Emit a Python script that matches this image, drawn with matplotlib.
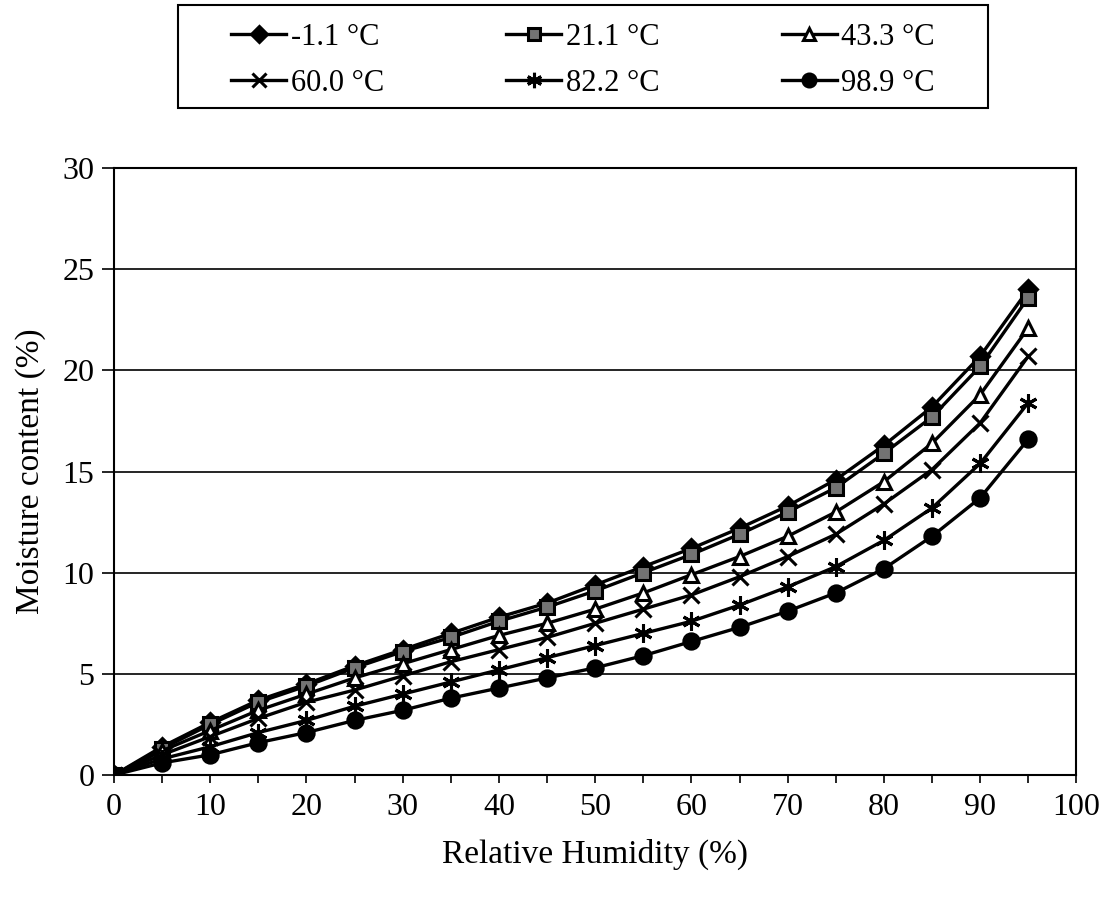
import matplotlib
matplotlib.use("Agg")
import matplotlib.pyplot as plt
from matplotlib.patches import Rectangle

# Relative humidity (%)
humidade = [0, 5, 10, 15, 20, 25, 30, 35, 40, 45, 50, 55, 60, 65, 70, 75, 80, 85, 90, 95]

# Moisture content (%) for each temperature
mc_m1_1 = [0, 1.4, 2.6, 3.7, 4.5, 5.4, 6.2, 7.0, 7.8, 8.5, 9.4, 10.3, 11.2, 12.2, 13.3, 14.6, 16.3, 18.2, 20.7, 24.0]
mc_21_1 = [0, 1.3, 2.5, 3.6, 4.4, 5.3, 6.1, 6.8, 7.6, 8.3, 9.1, 10.0, 10.9, 11.9, 13.0, 14.2, 15.9, 17.7, 20.2, 23.6]
mc_43_3 = [0, 1.2, 2.2, 3.2, 4.0, 4.8, 5.5, 6.2, 6.9, 7.5, 8.2, 9.0, 9.9, 10.8, 11.8, 13.0, 14.5, 16.4, 18.8, 22.1]
mc_60_0 = [0, 1.0, 1.9, 2.8, 3.6, 4.2, 4.9, 5.6, 6.2, 6.8, 7.5, 8.2, 8.9, 9.8, 10.8, 11.9, 13.4, 15.1, 17.4, 20.7]
mc_82_2 = [0, 0.8, 1.4, 2.1, 2.7, 3.4, 4.0, 4.6, 5.2, 5.8, 6.4, 7.0, 7.6, 8.4, 9.3, 10.3, 11.6, 13.2, 15.4, 18.4]
mc_98_9 = [0, 0.6, 1.0, 1.6, 2.1, 2.7, 3.2, 3.8, 4.3, 4.8, 5.3, 5.9, 6.6, 7.3, 8.1, 9.0, 10.2, 11.8, 13.7, 16.6]

nomes = ['-1.1 °C', '21.1 °C', '43.3 °C', '60.0 °C', '82.2 °C', '98.9 °C']

plt.rcParams['font.family'] = ['Liberation Serif', 'DejaVu Serif']

fig = plt.figure(figsize=(11.12, 9.01), dpi=100)
ax = fig.add_axes([0.1025, 0.1398, 0.8655, 0.6737])

series = [mc_m1_1, mc_21_1, mc_43_3, mc_60_0, mc_82_2, mc_98_9]
marcadores = ['D', 's', '^', 'x', (6, 2, 0), 'o']
faces = ['black', '0.45', 'white', 'black', 'black', 'black']
tamanhos = [9, 10, 10, 12, 13, 11]

handles = []
for i in range(6):
    h, = ax.plot(humidade, series[i], color='black', linewidth=2.4,
                 marker=marcadores[i], markersize=tamanhos[i],
                 markerfacecolor=faces[i], markeredgecolor='black',
                 markeredgewidth=2.2, label=nomes[i], zorder=3)
    handles.append(h)

ax.set_xlim(0, 100)
ax.set_ylim(0, 30)
ax.set_xticks(range(0, 101, 10))
ax.set_xticks(range(0, 101, 5), minor=True)
ax.set_yticks(range(0, 31, 5))
ax.tick_params(axis='x', which='both', direction='out', length=6, width=1.2,
               labelsize=23, pad=7)
ax.tick_params(axis='y', direction='out', length=9, width=1.2, labelsize=23, pad=5)
ax.grid(axis='y', color='black', linewidth=1.2)
ax.set_axisbelow(True)
for s in ['top', 'bottom', 'left', 'right']:
    ax.spines[s].set_linewidth(1.5)

ax.set_xlabel('Relative Humidity (%)', fontsize=24, labelpad=12)
ax.set_ylabel('Moisture content (%)', fontsize=24, labelpad=12)

# legend filled row by row like the original, frame drawn separately
ordem = [0, 3, 1, 4, 2, 5]
leg = fig.legend([handles[k] for k in ordem], [nomes[k] for k in ordem],
                 loc='upper center', bbox_to_anchor=(0.5243, 0.995),
                 ncol=3, fontsize=22, frameon=False, handlelength=1.8,
                 handletextpad=0.15, columnspacing=4.0, borderpad=0.6,
                 borderaxespad=0, labelspacing=0.55, markerscale=0.85)
fig.patches.append(Rectangle((0.160, 0.8801), 0.7284, 0.1143,
                             transform=fig.transFigure, fill=False,
                             edgecolor='black', linewidth=1.5))

fig.savefig("out.png", dpi=100)
